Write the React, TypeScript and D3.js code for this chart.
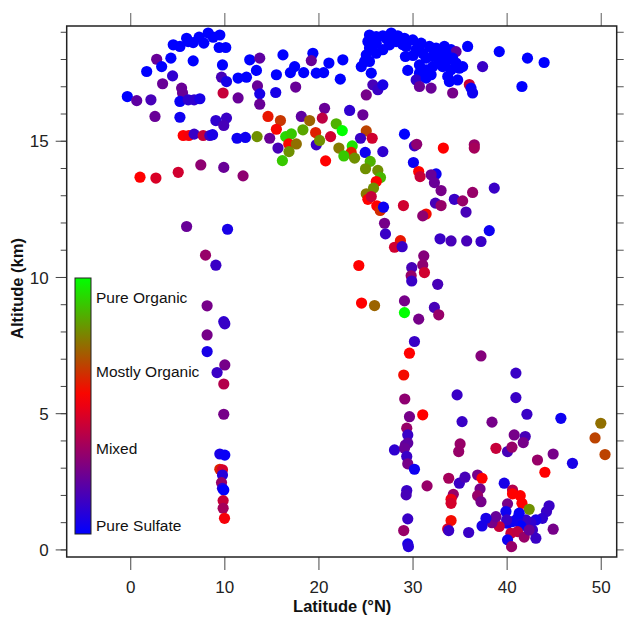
import React from 'react';
import * as d3 from 'd3';

// [latitude °N, altitude km, organic fraction 0 = pure sulfate .. 1 = pure organic]
type Pt = [number, number, number];

const upperTropLeft: Pt[] = [
  [4.52, 18.54, 0], [5.23, 18.48, 0], [5.94, 18.78, 0], [6.64, 18.62, 0], [7.27, 18.82, 0],
  [7.77, 18.6, 0], [8.23, 18.97, 0], [9.47, 18.9, 0], [9.4, 18.44, 0], [10.1, 18.44, 0],
  [8.76, 18.82, 0], [6.11, 18.66, 0], [2.76, 18.01, 0.22], [3.29, 17.74, 0], [4.27, 18.05, 0],
  [6.64, 17.95, 0], [1.7, 17.56, 0], [4.45, 17.4, 0.1], [3.39, 17.11, 0.22], [9.75, 17.8, 0],
  [9.65, 17.35, 0.15], [10.18, 17.19, 0.05], [11.41, 17.32, 0], [12.3, 17.35, 0], [12.65, 17.99, 0],
  [13.71, 18.05, 0.2], [13.36, 17.6, 0], [16.18, 18.17, 0], [15.48, 17.44, 0], [16.97, 17.52, 0],
  [17.42, 17.74, 0], [5.41, 16.95, 0.22], [5.51, 16.77, 0.22], [9.82, 16.77, 0.42], [13.47, 17.03, 0.22],
  [13.71, 16.74, 0.05], [15.41, 16.79, 0.05], [17.53, 16.99, 0.22], [-0.36, 16.64, 0], [0.64, 16.49, 0.2],
  [2.15, 16.52, 0.15], [5.23, 16.46, 0.02], [6.11, 16.52, 0.1], [6.74, 16.52, 0.1], [7.35, 16.56, 0.05],
  [11.41, 16.59, 0.22], [13.71, 16.36, 0.22], [2.58, 15.91, 0.22], [5.23, 15.88, 0.03], [9.05, 15.76, 0.1],
  [10.18, 15.85, 0.12], [9.89, 15.58, 0.15], [14.59, 15.91, 0.58], [15.91, 15.76, 0.64], [15.48, 15.44, 0.55],
  [5.58, 15.21, 0.54], [6.18, 15.21, 0.52], [6.74, 15.26, 0.12], [7.7, 15.21, 0.42], [8.41, 15.21, 0.12],
  [8.7, 15.24, 0.05], [11.3, 15.11, 0.03], [12.19, 15.14, 0.03], [13.43, 15.17, 0.8], [14.77, 15.11, 0.22],
  [16.47, 15.17, 0.93], [17.07, 15.27, 0.9], [16.79, 14.9, 0.55], [17.6, 14.9, 0.74], [15.65, 14.75, 0.15],
  [16.82, 14.62, 0.8], [16.12, 14.29, 0.9], [0.99, 13.68, 0.54], [2.68, 13.65, 0.46], [5.05, 13.86, 0.44],
  [7.45, 14.13, 0.3], [9.89, 14.04, 0.22], [11.94, 13.73, 0.3], [5.94, 11.87, 0.22], [10.29, 11.77, 0.05],
  [7.95, 10.82, 0.32], [9.05, 10.45, 0.12],
];

const column10N: Pt[] = [
  [8.12, 8.96, 0.25], [9.89, 8.38, 0.1], [10.0, 8.3, 0.12], [8.12, 7.89, 0.25], [8.12, 7.28, 0.05],
  [10.0, 6.79, 0.25], [9.18, 6.51, 0.12], [9.89, 6.09, 0.38], [9.89, 4.98, 0.25], [9.47, 3.52, 0.05],
  [10.0, 3.48, 0.02], [9.47, 2.96, 0.6], [9.75, 2.94, 0.45], [9.75, 2.75, 0.08], [9.65, 2.47, 0.32],
  [9.75, 2.26, 0.08], [9.89, 2.2, 0], [9.82, 1.81, 0.42], [9.82, 1.53, 0.35], [9.97, 1.16, 0.52],
];

const upperTropRight: Pt[] = [
  [25.37, 18.9, 0], [26.09, 18.84, 0], [26.79, 18.87, 0], [27.68, 18.97, 0], [28.38, 18.87, 0],
  [29.09, 18.78, 0], [29.97, 18.72, 0], [30.86, 18.6, 0], [31.74, 18.48, 0], [32.45, 18.42, 0],
  [33.33, 18.48, 0], [34.04, 18.36, 0], [34.57, 18.29, 0.2], [35.8, 18.48, 0], [25.2, 18.66, 0],
  [25.37, 18.42, 0], [25.03, 18.17, 0], [25.37, 17.93, 0], [24.5, 17.74, 0], [25.56, 17.5, 0],
  [26.09, 18.6, 0], [26.79, 18.36, 0], [27.5, 18.54, 0], [28.21, 18.66, 0], [29.27, 18.48, 0],
  [30.33, 18.36, 0], [31.03, 18.23, 0], [31.39, 18.05, 0], [32.09, 18.11, 0], [32.8, 18.17, 0],
  [33.51, 18.23, 0], [34.21, 18.05, 0], [34.57, 17.87, 0], [34.92, 17.68, 0], [35.27, 17.74, 0],
  [33.15, 17.74, 0], [32.09, 17.74, 0], [31.39, 17.62, 0], [31.03, 17.38, 0], [30.68, 17.5, 0],
  [30.33, 17.25, 0.1], [31.39, 17.32, 0], [33.86, 17.19, 0], [34.74, 17.25, 0], [30.68, 17.01, 0.22],
  [31.92, 16.95, 0.22], [29.19, 18.11, 0], [29.44, 17.6, 0], [25.73, 17.07, 0.15], [26.26, 16.89, 0.12],
  [26.79, 17.07, 0.05], [25.03, 16.7, 0.25], [34.21, 16.77, 0.25], [35.98, 17.08, 0.42], [36.16, 16.95, 0.02],
  [36.33, 16.77, 0.03], [37.39, 17.74, 0.12], [39.16, 18.29, 0], [42.16, 18.05, 0], [43.93, 17.89, 0],
  [41.57, 17.01, 0], [19.36, 18.23, 0], [19.19, 17.96, 0.22], [21.06, 17.87, 0], [22.54, 17.99, 0],
  [18.38, 17.52, 0], [19.72, 17.5, 0], [20.5, 17.52, 0], [22.27, 17.28, 0], [33.51, 17.93, 0],
  [32.8, 17.87, 0], [34.04, 17.62, 0], [31.92, 17.44, 0], [30.68, 17.8, 0], [26.09, 18.23, 0],
  [24.85, 17.93, 0], [33.69, 17.38, 0], [27.2, 18.75, 0], [28.9, 18.55, 0], [30.6, 18.5, 0],
  [32.2, 18.3, 0], [33.0, 18.0, 0], [30.0, 18.15, 0],
];

const midTrop: Pt[] = [
  [20.6, 16.21, 0.22], [23.26, 16.13, 0.1], [24.67, 15.97, 0.22], [18.13, 15.91, 0.2], [19.01, 15.76, 0.72],
  [20.36, 15.85, 0.4], [21.84, 15.64, 0.86], [22.48, 15.39, 1.0], [18.3, 15.42, 0.84], [19.65, 15.32, 0.6],
  [21.24, 15.17, 0.44], [25.03, 15.38, 0.66], [25.66, 15.11, 0.44], [24.42, 15.11, 0.12], [19.72, 14.87, 0.12],
  [20.07, 15.03, 0.8], [22.12, 14.75, 0.76], [23.54, 14.83, 0.95], [23.43, 14.59, 0.6], [22.65, 14.46, 0.9],
  [23.79, 14.38, 0.8], [24.92, 14.59, 0.03], [26.79, 14.62, 0.1], [20.71, 14.28, 0.54], [25.45, 14.26, 0.86],
  [24.95, 13.99, 0.8], [26.26, 13.93, 0.8], [26.54, 13.67, 0.87], [26.09, 13.52, 0.54], [25.8, 13.28, 0.8],
  [25.03, 13.07, 0.76], [25.2, 12.87, 0.54], [25.56, 12.97, 0.42], [26.15, 12.63, 0.54], [26.51, 12.46, 0.62],
  [26.86, 12.58, 0.03], [29.09, 15.26, 0], [30.15, 14.83, 0.12], [30.39, 14.89, 0.3], [33.22, 14.75, 0.54],
  [36.51, 14.87, 0.32], [36.51, 14.75, 0.35], [30.04, 14.22, 0.03], [30.6, 13.89, 0.54], [30.75, 13.7, 0.42],
  [32.45, 13.8, 0.03], [31.92, 13.77, 0.22], [32.27, 13.48, 0.22], [32.98, 13.19, 0.25], [34.39, 12.87, 0.12],
  [35.27, 12.81, 0.32], [36.33, 13.12, 0.32], [38.63, 13.28, 0.12], [32.38, 12.73, 0.15], [32.98, 12.64, 0.32],
  [35.63, 12.4, 0.15], [28.98, 12.64, 0.44], [31.39, 12.33, 0.56], [31.03, 12.26, 0.3], [26.97, 11.99, 0.25],
  [27.07, 11.6, 0.12], [28.66, 11.35, 0.58], [28.03, 11.11, 0.44], [28.84, 11.13, 0.12], [32.87, 11.42, 0.12],
  [34.04, 11.34, 0.15], [35.7, 11.34, 0.15], [37.22, 11.32, 0.12], [38.1, 11.72, 0.03], [31.14, 10.79, 0.28],
  [31.03, 10.46, 0.3], [31.21, 10.18, 0.44], [29.86, 10.36, 0.15], [29.8, 10.06, 0.32], [29.86, 9.87, 0.12],
  [32.62, 9.75, 0.15], [24.24, 10.44, 0.54], [24.53, 9.06, 0.54], [25.91, 8.97, 0.72], [29.09, 9.14, 0.25],
  [29.09, 8.71, 1.0], [32.27, 8.9, 0.15], [32.73, 8.63, 0.32], [30.6, 8.47, 0.25],
];

const lowerTrop: Pt[] = [
  [30.15, 7.65, 0.12], [29.62, 7.22, 0.54], [37.22, 7.12, 0.28], [29.01, 6.42, 0.56], [40.93, 6.49, 0.12],
  [34.68, 5.69, 0.12], [40.93, 5.59, 0.12], [29.12, 5.54, 0.3], [42.1, 4.98, 0.12], [45.71, 4.83, 0.03],
  [49.95, 4.65, 0.74], [29.62, 4.89, 0.25], [31.03, 4.96, 0.54], [35.21, 4.71, 0.12], [38.39, 4.69, 0.25],
  [49.34, 4.11, 0.66], [50.4, 3.5, 0.66], [40.75, 4.22, 0.25], [41.92, 4.16, 0.15], [41.71, 3.94, 0.25],
  [29.33, 4.47, 0.32], [29.44, 4.22, 0.12], [29.19, 3.85, 0.22], [29.44, 3.92, 0.2], [28.03, 3.67, 0.1],
  [29.09, 3.73, 0.22], [29.33, 3.43, 0.12], [29.44, 3.16, 0.25], [30.15, 2.96, 0.03], [35.0, 3.89, 0.32],
  [34.85, 3.61, 0.32], [38.81, 3.73, 0.42], [40.04, 3.61, 0.15], [40.51, 3.77, 0.32], [43.22, 3.3, 0.32],
  [44.89, 3.52, 0.25], [46.94, 3.18, 0.05], [44.01, 2.85, 0.54],
];

const boundaryLayer: Pt[] = [
  [33.79, 2.63, 0.35], [34.92, 2.45, 0.12], [35.52, 2.67, 0.15], [36.86, 2.75, 0.25], [37.33, 2.63, 0.54],
  [31.49, 2.35, 0.32], [29.33, 2.18, 0.12], [29.27, 2.02, 0.15], [37.12, 2.24, 0.25], [36.86, 1.99, 0.32],
  [37.22, 1.77, 0.25], [34.28, 2.04, 0.32], [34.04, 1.86, 0.5], [34.04, 1.71, 0.45], [39.69, 2.45, 0.05],
  [40.57, 2.2, 0.38], [40.57, 2.06, 0.54], [41.39, 1.99, 0.54], [41.57, 1.71, 0.54], [42.34, 1.49, 0.8],
  [40.04, 1.69, 0.25], [39.87, 1.41, 0.03], [44.46, 1.62, 0.12], [44.18, 1.41, 0.12], [43.75, 1.16, 0.1],
  [43.05, 1.1, 0.05], [42.52, 1.0, 0.1], [41.99, 1.1, 0.12], [41.1, 1.16, 0.05], [41.46, 0.88, 0],
  [40.57, 1.04, 0.03], [40.04, 0.98, 0.03], [39.94, 1.1, 0.12], [39.16, 0.86, 0.42], [38.39, 1.0, 0.25],
  [38.81, 1.22, 0.22], [37.75, 1.16, 0.05], [37.33, 0.88, 0.05], [35.91, 0.64, 0.12], [34.04, 1.08, 0.56],
  [33.68, 0.77, 0.45], [33.79, 0.71, 0.12], [29.44, 1.14, 0.12], [29.01, 0.71, 0.32], [29.44, 0.22, 0.05],
  [29.51, 0.12, 0.08], [40.4, 0.61, 0.42], [41.1, 0.67, 0.4], [41.81, 0.47, 0.32], [42.69, 0.73, 0.12],
  [43.05, 0.43, 0.12], [40.04, 0.37, 0.03], [40.47, 0.12, 0.32], [44.89, 0.76, 0.25], [42.34, 0.73, 0.22],
  [41.28, 1.35, 0.02],
];

const latTicks = [0, 10, 20, 30, 40, 50];
const altMajor = [0, 5, 10, 15];
const altMinor = d3.range(0, 20);
const compLabels: [string, number][] = [
  ['Pure Organic', 0.925],
  ['Mostly Organic', 0.635],
  ['Mixed', 0.335],
  ['Pure Sulfate', 0.035],
];

const W = 624;
const H = 617;
const plot = { left: 66.7, right: 616.7, top: 26, bottom: 557 };
const font = '"Liberation Sans", Arial, sans-serif';

const x = d3.scaleLinear().domain([-6.8, 51.64]).range([plot.left, plot.right]);
const y = d3.scaleLinear().domain([-0.26, 19.23]).range([plot.bottom, plot.top]);
const color = d3.scaleLinear<string>()
  .domain([0, 0.54, 1])
  .range(['#0000ff', '#ff0000', '#00ff00']);

const allPoints = [...upperTropLeft, ...upperTropRight, ...midTrop, ...column10N, ...lowerTrop, ...boundaryLayer];

const bar = { x: 75, w: 16, top: 278, bottom: 534 };
const barY = d3.scaleLinear().domain([0, 1]).range([bar.bottom, bar.top]);

export default function App() {
  const stops = d3.range(0, 1.0001, 0.05);
  return (
    <svg width={W} height={H} style={{ position: 'absolute', left: 0, top: 0, background: '#fff' }} fontFamily={font}>
      <defs>
        <linearGradient id="compGrad" x1="0" y1="1" x2="0" y2="0">
          {stops.map(s => (
            <stop key={s} offset={s} stopColor={color(s)} />
          ))}
        </linearGradient>
      </defs>

      {/* points */}
      {allPoints.map((d, i) => (
        <circle key={i} cx={x(d[0])} cy={y(d[1])} r={5.6} fill={color(d[2])} />
      ))}

      {/* left axis ticks */}
      {altMinor.map(v => (
        <line key={'lm' + v} x1={plot.left - 6} x2={plot.left} y1={y(v)} y2={y(v)} stroke="#444" strokeWidth={1} />
      ))}
      {altMajor.map(v => (
        <g key={'lM' + v}>
          <line x1={plot.left - 11} x2={plot.left} y1={y(v)} y2={y(v)} stroke="#444" strokeWidth={1} />
          <text x={plot.left - 18} y={y(v)} dy="0.36em" textAnchor="end" fontSize={17} fill="#222">{v}</text>
        </g>
      ))}
      {/* right axis ticks */}
      {altMinor.map(v => (
        <line key={'r' + v} x1={plot.right} x2={plot.right + 7} y1={y(v)} y2={y(v)} stroke="#555" strokeWidth={1} />
      ))}
      {/* top / bottom ticks */}
      {latTicks.map(v => (
        <g key={'t' + v}>
          <line x1={x(v)} x2={x(v)} y1={plot.top - 13} y2={plot.top} stroke="#777" strokeWidth={1.2} />
          <line x1={x(v)} x2={x(v)} y1={plot.bottom} y2={plot.bottom + 13} stroke="#666" strokeWidth={1.2} />
          <text x={x(v)} y={plot.bottom + 36} textAnchor="middle" fontSize={17} fill="#222">{v}</text>
        </g>
      ))}

      {/* frame */}
      <rect x={plot.left} y={plot.top} width={plot.right - plot.left} height={plot.bottom - plot.top}
        fill="none" stroke="#222" strokeWidth={1.5} />

      {/* colour bar */}
      <rect x={bar.x} y={bar.top} width={bar.w} height={bar.bottom - bar.top} fill="url(#compGrad)" stroke="#222" strokeWidth={1} />
      {compLabels.map(([t, v]) => (
        <text key={t} x={bar.x + bar.w + 5} y={barY(v)} dy="0.36em" fontSize={15.5} fill="#111">{t}</text>
      ))}

      {/* axis titles */}
      <text x={(plot.left + plot.right) / 2 + 0.5} y={612} textAnchor="middle" fontSize={16.5} fontWeight="bold" fill="#111">Latitude (°N)</text>
      <text transform={`translate(23,${(plot.top + plot.bottom) / 2 - 3}) rotate(-90)`} textAnchor="middle" fontSize={16.5} fontWeight="bold" fill="#111">Altitude (km)</text>
    </svg>
  );
}
